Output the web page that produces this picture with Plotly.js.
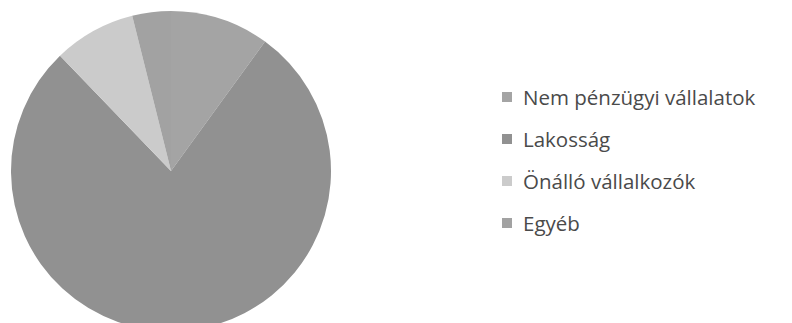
<!DOCTYPE html>
<html>
<head>
<meta charset="utf-8">
<script src="https://cdn.plot.ly/plotly-3.0.1.min.js"></script>
<style>
html,body{margin:0;padding:0;overflow:hidden;background:#fff;width:792px;height:323px;}
#chart{width:792px;height:331px;}
</style>
</head>
<body>
<div id="chart"></div>
<script>
const labels = ["Nem pénzügyi vállalatok", "Lakosság", "Önálló vállalkozók", "Egyéb"];
const values = [10.0, 77.8, 8.3, 3.9];
const colors = ["#a4a4a4", "#919191", "#cbcbcb", "#a2a2a2"];

const H = 331, TOP = 11;
const legendX = 507;            // px, marker centre
const legendY = [97, 139, 181, 223]; // px, row centres
const toPaperY = py => (H - py) / (H - TOP);

const annotations = labels.map((t, i) => ({
  text: t, xref: "paper", yref: "paper",
  x: (legendX + 14) / 792, y: toPaperY(legendY[i]),
  xanchor: "left", yanchor: "middle", showarrow: false,
  font: {family: "Open Sans, sans-serif", size: 20.5, color: "#4a4a4a"}
}));
const shapes = labels.map((t, i) => ({
  type: "rect", xref: "paper", yref: "paper",
  x0: (legendX - 5) / 792, x1: (legendX + 5) / 792,
  y0: toPaperY(legendY[i] + 5), y1: toPaperY(legendY[i] - 5),
  fillcolor: colors[i], line: {width: 0}
}));

Plotly.newPlot("chart", [{
  type: "pie",
  labels: labels,
  values: values,
  sort: false,
  direction: "clockwise",
  rotation: 0,
  textinfo: "none",
  hoverinfo: "none",
  marker: {colors: colors, line: {width: 0}},
  domain: {x: [11 / 792, 331 / 792], y: [0, 1]},
  showlegend: false
}], {
  width: 792, height: H,
  margin: {l: 0, r: 0, t: TOP, b: 0},
  paper_bgcolor: "#ffffff",
  showlegend: false,
  annotations: annotations,
  shapes: shapes
}, {staticPlot: true, displayModeBar: false});
</script>
</body>
</html>
